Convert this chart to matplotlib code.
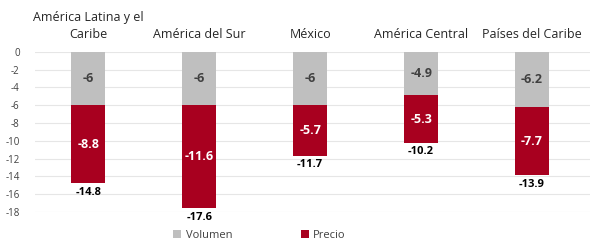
import matplotlib.pyplot as plt
import numpy as np

plt.rcParams['font.family'] = ['Open Sans', 'DejaVu Sans']

regiones = ['América Latina y el\nCaribe', 'América del Sur', 'México', 'América Central', 'Países del Caribe']
volumen = [-6, -6, -6, -4.9, -6.2]
precio = [-8.8, -11.6, -5.7, -5.3, -7.7]
total = [-14.8, -17.6, -11.7, -10.2, -13.9]
yticks = [0, -2, -4, -6, -8, -10, -12, -14, -16, -18]

gris = '#BFBFBF'
rojo = '#A8001F'

fig = plt.figure(figsize=(6.03, 2.45), dpi=100)
ax = fig.add_axes([0.058, 0.135, 0.92, 0.653])

x = np.arange(len(regiones))
ax.bar(x, volumen, width=0.31, color=gris, label='Volumen', zorder=2)
ax.bar(x, precio, width=0.31, bottom=volumen, color=rojo, label='Precio', zorder=2)

for i in range(len(regiones)):
    ax.text(x[i], volumen[i] / 2, f'{volumen[i]:g}', ha='center', va='center',
            fontsize=9, fontweight='bold', color='#404040')
    ax.text(x[i], volumen[i] + precio[i] / 2, f'{precio[i]:g}', ha='center', va='center',
            fontsize=9, fontweight='bold', color='white')
    ax.text(x[i], total[i] - 0.4, f'{total[i]:g}', ha='center', va='top',
            fontsize=8, fontweight='bold', color='black')

ax.set_xlim(-0.48, 4.52)
ax.set_ylim(-18, 0)
ax.set_yticks(yticks)
ax.set_yticklabels([str(t) for t in yticks], fontsize=7, color='#404040')
ax.yaxis.grid(True, color='#E6E6E6', linewidth=0.8, zorder=0)
ax.xaxis.tick_top()
ax.set_xticks(x)
ax.set_xticklabels(regiones, fontsize=9, color='#262626', linespacing=1.35)
ax.tick_params(axis='x', length=0, pad=8)
ax.tick_params(axis='y', length=0, pad=11)
for s in ax.spines.values():
    s.set_visible(False)

ax.legend(loc='upper center', bbox_to_anchor=(0.405, -0.085), ncol=2, frameon=False,
          fontsize=8, handlelength=0.7, handleheight=0.7, columnspacing=6.2,
          handletextpad=0.4, labelcolor='#404040', borderaxespad=0)

fig.savefig('out.png', dpi=100)
